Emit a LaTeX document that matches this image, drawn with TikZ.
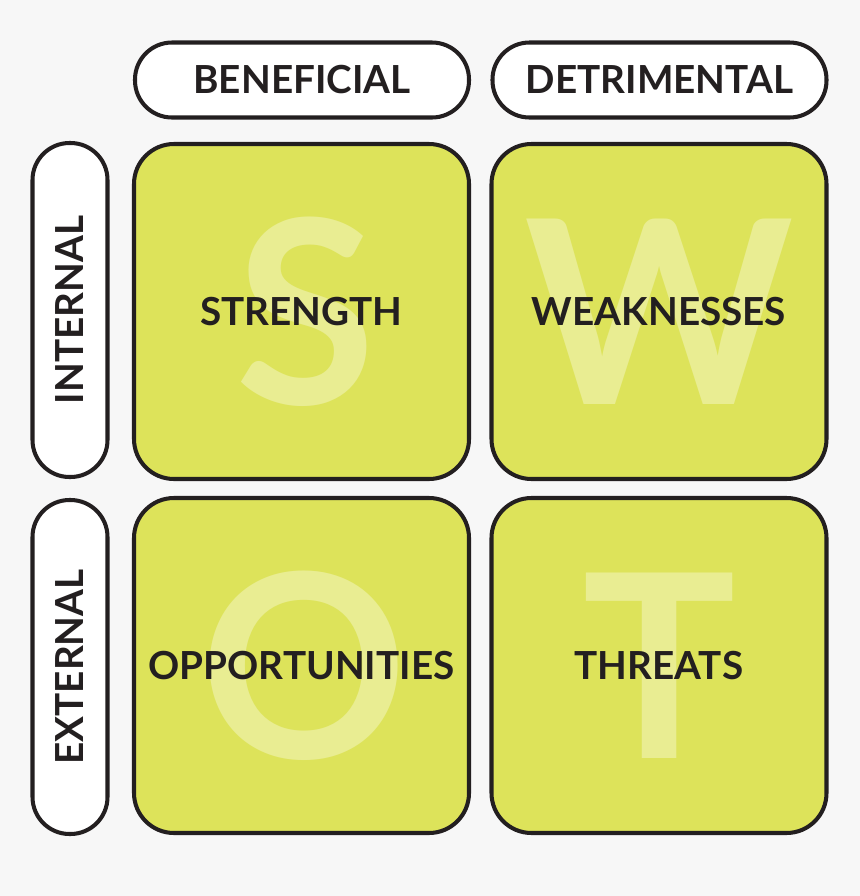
\documentclass[tikz,border=0pt]{standalone}
\usepackage{fontspec}
\setmainfont{Lato}
\definecolor{swotfill}{HTML}{DDE35A}
\definecolor{swotletter}{HTML}{E9ED92}
\definecolor{swotbg}{HTML}{F7F7F7}
\definecolor{swotink}{HTML}{231F20}
\begin{document}
\begin{tikzpicture}[line width=2.3pt,
    quad/.style={draw=swotink, fill=swotfill, rounded corners=0.8cm,
                 minimum width=6.7cm, minimum height=6.7cm},
    pill/.style={draw=swotink, fill=white, rounded corners=0.74cm,
                 minimum width=6.68cm, minimum height=1.5cm,
                 font=\bfseries\fontsize{22}{26}\selectfont, text=swotink},
    bigletter/.style={text=swotletter, font=\bfseries\fontsize{146}{146}\selectfont},
    quadlabel/.style={text=swotink, font=\bfseries\fontsize{22}{26}\selectfont}]
  \fill[swotbg] (0,0) rectangle (17.2,-17.92);
  \useasboundingbox (0,0) rectangle (17.2,-17.92);

  % header pills
  \node[pill] (benef) at (6.04,-1.6) {BENEFICIAL};
  \node[pill] (detri) at (13.19,-1.6) {DETRIMENTAL};
  \node[pill, rotate=90] (inter) at (1.4,-6.2) {INTERNAL};
  \node[pill, rotate=90] (exter) at (1.4,-13.34) {EXTERNAL};

  % quadrants
  \node[quad] (str) at (6.03,-6.23) {};
  \node[quad] (weak) at (13.18,-6.23) {};
  \node[quad] (opp) at (6.03,-13.31) {};
  \node[quad] (thr) at (13.18,-13.31) {};

  \node[bigletter] (sS) at ([xshift=0.08cm]str.center) {S};
  \node[bigletter] (sW) at (weak.center) {W};
  \node[bigletter] (sO) at ([xshift=0.05cm]opp.center) {O};
  \node[bigletter] (sT) at (thr.center) {T};

  \node[quadlabel] at (str.center) {STRENGTH};
  \node[quadlabel] at (weak.center) {WEAKNESSES};
  \node[quadlabel] at (opp.center) {OPPORTUNITIES};
  \node[quadlabel] at (thr.center) {THREATS};
\end{tikzpicture}
\end{document}
